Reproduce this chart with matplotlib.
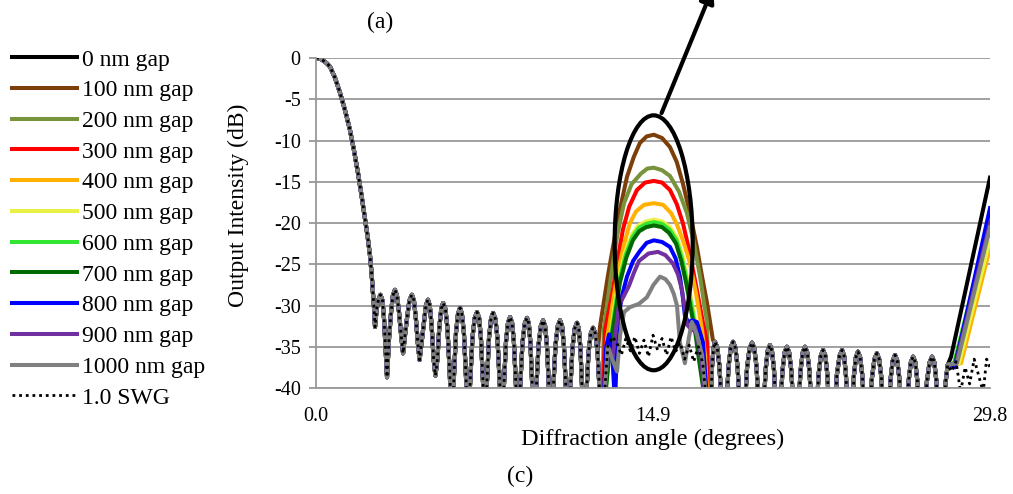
import matplotlib
matplotlib.use('Agg')
import matplotlib.pyplot as plt
from matplotlib.patches import Ellipse

plt.rcParams['font.family'] = ['Liberation Serif', 'DejaVu Serif']
plt.rcParams['axes.unicode_minus'] = False

# ---- data (angle in degrees, intensity in dB) ----

gap_labels = ['0 nm gap', '100 nm gap', '200 nm gap', '300 nm gap', '400 nm gap',
              '500 nm gap', '600 nm gap', '700 nm gap', '800 nm gap', '900 nm gap',
              '1000 nm gap']
gap_colors = ['#000000', '#7B3F0A', '#77933C', '#FF0000', '#FFB000', '#E8F245',
              '#33E633', '#006A00', '#0000FF', '#7030A0', '#808080']

# zero order lobe, the same for every curve
main_x = [0.0, 0.15, 0.31, 0.46, 0.62, 0.84, 1.06, 1.28, 1.50, 1.68, 1.86, 2.02, 2.17,
          2.29, 2.39, 2.46, 2.52, 2.57, 2.61]
main_y = [0.0, -0.05, -0.3, -0.6, -1.05, -2.4, -4.2, -6.3, -8.7, -11.2, -14.0, -16.8, -19.6,
          -21.8, -24.0, -26.2, -28.5, -30.5, -32.6]

# side lobes between zero and second order
left_x = [2.68, 2.76, 2.85, 2.94, 3.01, 3.08, 3.14,
          3.23, 3.32, 3.40, 3.49, 3.58, 3.67, 3.76, 3.85,
          3.94, 4.03, 4.13, 4.24, 4.33, 4.42, 4.50, 4.58,
          4.67, 4.76, 4.86, 4.95, 5.03, 5.11, 5.20, 5.28,
          5.37, 5.45, 5.54, 5.62, 5.72, 5.81, 5.91, 6.01,
          6.10, 6.19, 6.28, 6.37, 6.45, 6.54, 6.63, 6.72,
          6.82, 6.92, 7.02, 7.12, 7.21, 7.29, 7.38, 7.47,
          7.56, 7.65, 7.74, 7.83, 7.93, 8.02, 8.12, 8.22,
          8.31, 8.40, 8.49, 8.58, 8.67, 8.75, 8.84, 8.93,
          9.03, 9.13, 9.23, 9.33, 9.41, 9.48, 9.56, 9.64,
          9.74, 9.84, 9.94, 10.04, 10.13, 10.21, 10.30, 10.39,
          10.49, 10.59, 10.69, 10.79, 10.88, 10.96, 11.05, 11.14,
          11.24, 11.34, 11.44, 11.54, 11.62, 11.69, 11.77, 11.85,
          11.95, 12.05, 12.15, 12.25, 12.35, 12.45]
left_y = [-30.5, -29.3, -28.7, -29.4, -31.7, -35.5, -38.7,
          -34.0, -30.8, -28.8, -28.1, -28.8, -30.8, -33.5, -35.8,
          -33.5, -31.4, -29.4, -28.7, -29.4, -31.7, -34.5, -36.6,
          -34.5, -32.3, -30.0, -29.3, -30.0, -32.3, -36.5, -38.5,
          -36.5, -32.7, -30.4, -29.7, -30.4, -32.7, -38.0, -45,
          -38.6, -33.3, -31.0, -30.3, -31.0, -33.3, -38.6, -45,
          -39.1, -33.8, -31.5, -30.8, -31.5, -33.8, -39.1, -45,
          -39.2, -33.9, -31.6, -30.9, -31.6, -33.9, -39.2, -45,
          -39.7, -34.4, -32.1, -31.4, -32.1, -34.4, -39.7, -45,
          -39.8, -34.5, -32.2, -31.5, -32.2, -34.5, -39.8, -45,
          -40.1, -34.8, -32.5, -31.8, -32.5, -34.8, -40.1, -45,
          -40.1, -34.8, -32.5, -31.8, -32.5, -34.8, -40.1, -45,
          -40.4, -35.1, -32.8, -32.1, -32.8, -35.1, -40.4, -45,
          -41.0, -35.7, -33.4, -32.7, -33.4, -35.7]

# side lobes between second order and the edge
right_x = [17.64, 17.74, 17.84, 17.94, 18.04,
           18.14, 18.24, 18.34, 18.44, 18.54, 18.64, 18.74, 18.84,
           18.95, 19.06, 19.17, 19.28, 19.38, 19.48, 19.58, 19.68,
           19.78, 19.88, 19.97, 20.07, 20.16, 20.25, 20.34, 20.43,
           20.53, 20.62, 20.72, 20.82, 20.92, 21.02, 21.12, 21.22,
           21.32, 21.42, 21.52, 21.62, 21.72, 21.82, 21.92, 22.02,
           22.12, 22.22, 22.32, 22.42, 22.52, 22.61, 22.71, 22.81,
           22.92, 23.03, 23.15, 23.26, 23.35, 23.43, 23.52, 23.61,
           23.70, 23.78, 23.87, 23.96, 24.06, 24.16, 24.26, 24.36,
           24.47, 24.58, 24.69, 24.80, 24.90, 25.00, 25.10, 25.20,
           25.30, 25.40, 25.50, 25.60, 25.70, 25.80, 25.90, 26.00,
           26.10, 26.20, 26.30, 26.40, 26.50, 26.59, 26.69, 26.79,
           26.90, 27.01, 27.13, 27.24, 27.34, 27.43, 27.53, 27.63,
           27.73, 27.83, 27.93]
right_y = [-34.4, -35.1, -37.4, -42.7, -45,
           -42.7, -37.4, -35.1, -34.4, -35.1, -37.4, -42.7, -45,
           -42.8, -37.5, -35.2, -34.5, -35.2, -37.5, -42.8, -45,
           -43.1, -37.8, -35.5, -34.8, -35.5, -37.8, -43.1, -45,
           -43.3, -38.0, -35.7, -35.0, -35.7, -38.0, -43.3, -45,
           -43.3, -38.0, -35.7, -35.0, -35.7, -38.0, -43.3, -45,
           -43.7, -38.4, -36.1, -35.4, -36.1, -38.4, -43.7, -45,
           -43.7, -38.4, -36.1, -35.4, -36.1, -38.4, -43.7, -45,
           -43.9, -38.6, -36.3, -35.6, -36.3, -38.6, -43.9, -45,
           -44.1, -38.8, -36.5, -35.8, -36.5, -38.8, -44.1, -45,
           -44.3, -39.0, -36.7, -36.0, -36.7, -39.0, -44.3, -45,
           -44.5, -39.2, -36.9, -36.2, -36.9, -39.2, -44.5, -45,
           -44.5, -39.2, -36.9, -36.2, -36.9, -39.2, -44.5, -45,
           -44.5, -39.5, -37.2]

# trough before and after the second order (all gaps except 100 nm)
head_x = [12.55, 12.65]
head_y = [-41.0, -45]
tail_x = [17.38, 17.45, 17.51, 17.58]
tail_y = [-45, -42.7, -37.4, -35.1]

# second order lobe for each gap
lobe_x_0 = [17.30]
lobe_y_0 = [-45]
lobe_x_100 = [12.56, 12.69, 12.90, 13.13, 13.45, 13.75, 14.05, 14.32, 14.62, 14.94, 15.30,
              15.65, 15.95, 16.22, 16.55, 16.84, 17.07, 17.29, 17.55]
lobe_y_100 = [-32.5, -30.2, -26.5, -22.9, -18.2, -14.4, -12.0, -10.3, -9.5, -9.3, -9.7,
              -10.8, -12.6, -15.2, -19.0, -22.9, -26.5, -29.7, -34.2]
lobe_x_200 = [12.72, 13.04, 13.32, 13.62, 13.95, 14.37, 14.65, 14.94, 15.30, 15.65, 16.05,
              16.40, 16.70, 16.98, 17.17, 17.29]
lobe_y_200 = [-33.0, -26.5, -21.5, -17.6, -15.3, -14.0, -13.4, -13.3, -13.6, -14.3, -16.2,
              -18.8, -22.3, -26.5, -30.0, -32.0]
lobe_x_300 = [12.78, 13.13, 13.35, 13.57, 13.85, 14.19, 14.55, 14.94, 15.30, 15.65, 15.95,
              16.22, 16.45, 16.67, 16.90, 17.11, 17.29]
lobe_y_300 = [-33.0, -28.1, -24.2, -20.8, -18.0, -16.0, -15.1, -14.9, -15.1, -16.0, -17.7,
              -20.0, -22.7, -25.7, -29.0, -32.1, -34.5]
lobe_x_400 = [12.87, 13.10, 13.31, 13.60, 13.88, 14.15, 14.50, 14.94, 15.35, 15.70, 15.96,
              16.25, 16.53, 16.80, 17.07, 17.20]
lobe_y_400 = [-34.0, -30.0, -26.5, -22.8, -20.0, -18.6, -17.8, -17.6, -17.8, -18.8, -20.2,
              -22.3, -24.8, -28.5, -33.0, -36.0]
lobe_x_500 = [12.96, 13.18, 13.40, 13.68, 13.97, 14.25, 14.60, 14.94, 15.30, 15.65, 15.96,
              16.20, 16.40, 16.62, 16.84, 17.00]
lobe_y_500 = [-35.0, -30.5, -26.5, -23.5, -21.4, -20.3, -19.8, -19.6, -19.8, -20.5, -21.8,
              -24.0, -26.5, -29.8, -33.0, -36.0]
lobe_x_600 = [12.98, 13.20, 13.42, 13.70, 13.99, 14.27, 14.60, 14.94, 15.30, 15.63, 15.94,
              16.18, 16.38, 16.60, 16.80, 16.95]
lobe_y_600 = [-35.0, -30.8, -26.8, -23.8, -21.7, -20.6, -20.1, -19.9, -20.1, -20.8, -22.1,
              -24.3, -26.8, -30.0, -33.0, -36.0]
lobe_x_700 = [13.00, 13.22, 13.44, 13.72, 14.01, 14.29, 14.60, 14.94, 15.30, 15.61, 15.92,
              16.16, 16.36, 16.58, 16.78, 16.93]
lobe_y_700 = [-35.0, -31.2, -27.2, -24.2, -22.1, -21.0, -20.5, -20.3, -20.5, -21.2, -22.5,
              -24.7, -27.2, -30.5, -33.5, -36.5]
lobe_x_800 = [12.83, 12.96, 13.10, 13.22, 13.35, 13.55, 13.75, 14.02, 14.32, 14.62, 14.94,
              15.30, 15.65, 15.90, 16.09, 16.22, 16.31, 16.45, 16.65, 16.84, 17.11]
lobe_y_800 = [-35.0, -33.5, -36.0, -42.0, -31.6, -28.6, -26.5, -24.6, -23.4, -22.4, -22.1,
              -22.3, -22.9, -24.3, -26.5, -29.0, -31.2, -32.0, -31.8, -32.0, -34.5]
lobe_x_900 = [12.90, 13.13, 13.39, 13.62, 13.84, 14.06, 14.28, 14.70, 15.12, 15.45, 15.78,
              16.00, 16.18, 16.30, 16.40, 16.62, 16.75, 16.98]
lobe_y_900 = [-35.0, -36.0, -30.0, -28.8, -27.6, -26.0, -24.6, -23.7, -23.5, -23.9, -24.9,
              -26.2, -28.1, -30.3, -32.3, -33.0, -32.5, -35.5]
lobe_x_1000 = [12.90, 13.10, 13.31, 13.45, 13.62, 13.88, 14.28, 14.63, 14.92, 15.21, 15.45,
               15.65, 15.82, 15.96, 16.09, 16.31, 16.48, 16.62, 16.84, 17.07]
lobe_y_1000 = [-35.0, -36.5, -38.0, -33.5, -30.8, -30.2, -29.8, -29.0, -27.5, -26.5, -26.8,
               -27.5, -28.6, -30.0, -34.5, -37.0, -34.0, -32.0, -33.5, -36.0]

# start of the rise toward the next order, and the value at the right edge
rise_x0 = [28.08, 28.39, 28.34, 28.39, 28.52, 28.43, 28.21, 28.25, 28.25, 28.30, 28.34]
rise_y0 = [-36.2, -37.0, -37.0, -37.0, -37.0, -37.0, -37.0, -37.0, -37.5, -37.0, -37.0]
rise_end = [-14.5, -21.5, -21.0, -21.5, -23.0, -22.0, -19.5, -20.0, -18.2, -20.0, -20.5]
edge_x = 29.8

# 1.0 SWG reference, where it differs from the gap curves
swg_mid_x = [12.9, 13.1, 13.3, 13.5, 13.7, 13.9, 14.1, 14.3, 14.5, 14.7, 14.9, 15.1,
             15.3, 15.5, 15.7, 15.9, 16.1, 16.3, 16.5, 16.7, 16.9, 17.1]
swg_mid_y = [-35.0, -33.8, -34.5, -36.0, -34.0, -35.5, -33.8, -35.8, -34.2, -36.2, -33.6,
             -35.4, -34.0, -36.0, -33.8, -35.6, -34.5, -36.5, -34.8, -36.8, -35.0, -37.0]
swg_end_x = [28.1, 28.3, 28.5, 28.7, 28.9, 29.1, 29.3, 29.5, 29.65, 29.8]
swg_end_y = [-38.0, -36.8, -40.5, -37.5, -39.5, -36.5, -38.5, -40.5, -36.5, -37.5]

lobes_x = [lobe_x_0, lobe_x_100, lobe_x_200, lobe_x_300, lobe_x_400, lobe_x_500,
           lobe_x_600, lobe_x_700, lobe_x_800, lobe_x_900, lobe_x_1000]
lobes_y = [lobe_y_0, lobe_y_100, lobe_y_200, lobe_y_300, lobe_y_400, lobe_y_500,
           lobe_y_600, lobe_y_700, lobe_y_800, lobe_y_900, lobe_y_1000]

# ---- figure ----
fig = plt.figure(figsize=(10.13, 4.94), dpi=100)
ax = fig.add_axes([316 / 1013, 1 - 388 / 494, 674 / 1013, 330 / 494])

for i in range(len(gap_labels)):
    if i == 1:
        # the 100 nm lobe is wide, it leaves the side lobes before their trough
        mid_x, mid_y = lobes_x[i], lobes_y[i]
    else:
        mid_x = head_x + lobes_x[i] + tail_x
        mid_y = head_y + lobes_y[i] + tail_y
    xs = main_x + left_x + mid_x + right_x + [rise_x0[i], edge_x]
    ys = main_y + left_y + mid_y + right_y + [rise_y0[i], rise_end[i]]
    ax.plot(xs, ys, color=gap_colors[i], lw=2.9, label=gap_labels[i],
            solid_joinstyle='round')

swg_x = main_x + left_x + head_x + swg_mid_x + tail_x + right_x + swg_end_x
swg_y = main_y + left_y + head_y + swg_mid_y + tail_y + right_y + swg_end_y
ax.plot(swg_x, swg_y, color='black', lw=2.0, dashes=(1, 1.4), label='1.0 SWG')

ax.set_xlim(0, 29.8)
ax.set_ylim(-40, 0)
ax.set_yticks(range(-40, 1, 5))
ax.set_xticks([0.0, 14.9, 29.8])
ax.set_xticklabels(['0.0', '14.9', '29.8'])
ax.grid(axis='y', color='#999999', lw=1.3)
ax.set_axisbelow(True)
for s in ['top', 'right']:
    ax.spines[s].set_visible(False)
for s in ['left', 'bottom']:
    ax.spines[s].set_color('#999999')
    ax.spines[s].set_linewidth(1.3)
ax.tick_params(axis='y', length=5, width=1.3, color='#999999', labelsize=14.5, pad=6)
ax.tick_params(axis='x', length=0, labelsize=14.5, pad=14)

ax.set_xlabel('Diffraction angle (degrees)', fontsize=17.5, labelpad=1.5)
ax.set_ylabel('Output Intensity (dB)', fontsize=17)
ax.yaxis.set_label_coords(-0.10, 0.555)

# highlighted second order
ax.add_patch(Ellipse((14.93, -22.4), 3.45, 30.9, fill=False, lw=3, ec='black',
                     clip_on=False, zorder=5))
ax.annotate('', xy=(713 / 1013, 1.025), xycoords='figure fraction',
            xytext=(15.28, -6.67), textcoords='data',
            arrowprops=dict(arrowstyle='-|>', lw=3, color='black', mutation_scale=22,
                            shrinkA=0, shrinkB=0),
            annotation_clip=False)

fig.text(380 / 1013, 1 - 22 / 494, '(a)', fontsize=17, ha='center', va='center')
fig.text(520 / 1013, 1 - 476 / 494, '(c)', fontsize=17, ha='center', va='center')

fig.legend(loc='upper left', bbox_to_anchor=(12 / 1013, 1 - 49 / 494), frameon=False,
           fontsize=17, handlelength=2.75, handletextpad=0.21, labelspacing=0.39,
           borderpad=0.0, borderaxespad=0.0)

fig.savefig('out.png', dpi=100)
